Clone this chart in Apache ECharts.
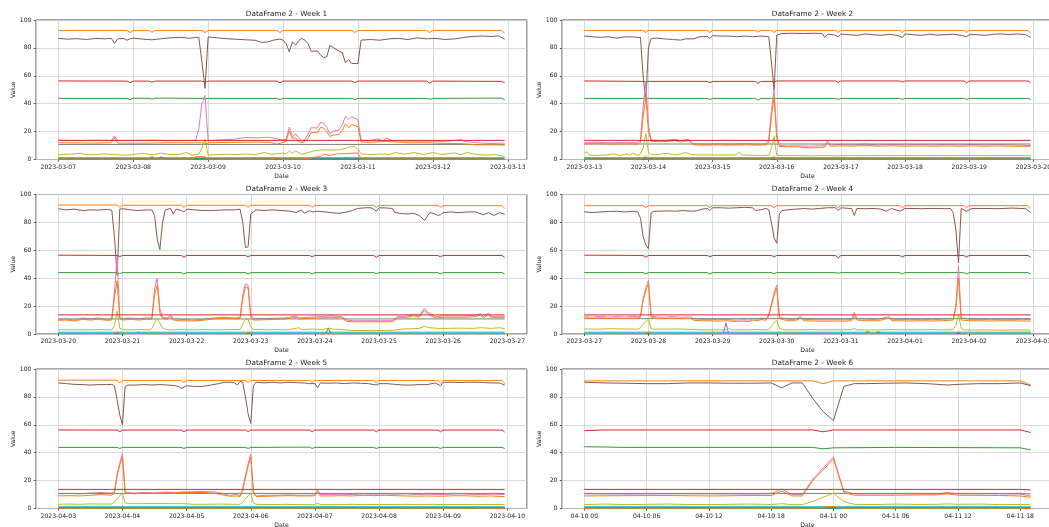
<!DOCTYPE html>
<html>
<head>
<meta charset="utf-8">
<title>DataFrame 2 - weekly</title>
<script src="https://cdn.jsdelivr.net/npm/echarts@6/dist/echarts.min.js"></script>
<style>
  html, body { margin: 0; padding: 0; background: #ffffff; }
  #chart { width: 1049px; height: 527px; }
</style>
</head>
<body>
<div id="chart"></div>
<script>
// Week definitions: start day (UTC), last hourly sample of the week, tick labels, titles
const weekStarts = ['2023-03-07', '2023-03-13', '2023-03-20', '2023-03-27', '2023-04-03', '2023-04-10'];
const weekLastHour = [143, 167, 167, 167, 167, 43];
const weekTickStepHours = [24, 24, 24, 24, 24, 6];
const weekTickLabels = [
  ['2023-03-07', '2023-03-08', '2023-03-09', '2023-03-10', '2023-03-11', '2023-03-12', '2023-03-13'],
  ['2023-03-13', '2023-03-14', '2023-03-15', '2023-03-16', '2023-03-17', '2023-03-18', '2023-03-19', '2023-03-20'],
  ['2023-03-20', '2023-03-21', '2023-03-22', '2023-03-23', '2023-03-24', '2023-03-25', '2023-03-26', '2023-03-27'],
  ['2023-03-27', '2023-03-28', '2023-03-29', '2023-03-30', '2023-03-31', '2023-04-01', '2023-04-02', '2023-04-03'],
  ['2023-04-03', '2023-04-04', '2023-04-05', '2023-04-06', '2023-04-07', '2023-04-08', '2023-04-09', '2023-04-10'],
  ['04-10 00', '04-10 06', '04-10 12', '04-10 18', '04-11 00', '04-11 06', '04-11 12', '04-11 18']
];
const weekTitles = ['DataFrame 2 - Week 1', 'DataFrame 2 - Week 2', 'DataFrame 2 - Week 3',
                    'DataFrame 2 - Week 4', 'DataFrame 2 - Week 5', 'DataFrame 2 - Week 6'];

// Columns of DataFrame 2: one list per week of [hour since week start, value]
const col1 = [
  [[0, 0.6], [143, 0.6]], [[0, 0.6], [167, 0.6]], [[0, 0.6], [167, 0.6]],
  [[0, 0.6], [167, 0.6]], [[0, 0.6], [167, 0.6]], [[0, 0.6], [43, 0.6]]
];
const col2 = [
  [[0,92.5],[22,92.5],[23,91],[24,92.5],[29,92.5],[30,91.2],[31,92.5],[46,92.5],[47,91],[48,92.5],[70,92.5],[71,91],[72,92.5],[94,92.5],[95,91],[96,92.5],[118,92.5],[119,91],[120,92.5],[142,92.5],[143,90.5]],
  [[0,92.5],[22,92.5],[23,91],[24,92.5],[46,92.5],[47,91],[48,92.5],[64,92.5],[65,91.2],[66,92.5],[70,92.5],[71,91],[72,92.5],[94,92.5],[95,91],[96,92.5],[118,92.5],[119,91],[120,92.5],[142,92.5],[143,91],[144,92.5],[166,92.5],[167,90.5]],
  [[0,92.5],[22,92.5],[23,90.8],[24,92.3],[46,92.3],[47,90.8],[48,92.3],[70,92.3],[71,90.8],[72,92.3],[94,92.3],[95,90.8],[96,92.2],[118,92.2],[119,90.8],[120,92.2],[142,92.2],[143,90.8],[144,92],[166,92],[167,90]],
  [[0,92],[22,92],[23,90.5],[24,92],[46,92],[47,90.5],[48,92],[70,92],[71,90.5],[72,92],[94,92],[95,90.5],[96,92],[118,92],[119,90.5],[120,92],[142,92],[143,90.5],[144,92],[166,92],[167,90]],
  [[0,92],[22,92],[23,90.2],[24,91.8],[46,91.8],[47,90.2],[48,91.8],[70,91.8],[71,90.2],[72,91.8],[94,91.8],[95,90],[96,91.8],[118,91.8],[119,90],[120,91.8],[142,91.8],[143,90],[144,91.8],[166,91.8],[167,89.5]],
  [[0,91.5],[22,91.5],[23,89.5],[24,91.5],[42,91.5],[43,88.5]]
];
const col3 = [
  [[0,43.8],[22,43.8],[23,42.8],[24,44],[29,43.8],[30,43.3],[31,44],[46,43.8],[47,43.5],[48,43.8],[70,43.8],[71,43],[72,43.8],[94,43.8],[95,43],[96,43.8],[118,43.8],[119,43.2],[120,43.8],[142,44],[143,42.8]],
  [[0,43.8],[22,43.8],[23,43.2],[24,43.8],[46,43.8],[47,43],[48,43.8],[64,43.8],[65,42.5],[66,43.8],[70,43.8],[71,43.5],[72,43.8],[94,43.8],[95,43],[96,43.8],[118,43.8],[119,43],[120,43.8],[142,43.8],[143,43],[144,43.8],[166,43.8],[167,43]],
  [[0,44],[22,44],[23,43.3],[24,44],[46,44],[47,43],[48,44],[70,44],[71,43],[72,44],[94,44],[95,43],[96,44],[118,44],[119,43.2],[120,44],[142,44],[143,43],[144,44],[166,44],[167,43]],
  [[0,44],[22,44],[23,43.2],[24,44],[46,44],[47,43],[48,44],[70,44],[71,43.2],[72,44],[94,44],[95,43.5],[96,44],[118,44],[119,43],[120,44],[142,44],[143,43],[144,44],[166,44],[167,43]],
  [[0,43.8],[22,43.8],[23,43],[24,43.8],[46,43.8],[47,43],[48,43.8],[70,43.8],[71,43],[72,43.8],[94,44],[95,43],[96,43.8],[118,43.8],[119,43],[120,43.8],[142,43.8],[143,43],[144,43.8],[166,43.8],[167,43]],
  [[0,44.3],[4,43.8],[22,43.8],[23,42.8],[24,43.5],[30,43.8],[42,43.5],[43,42]]
];
const col4 = [
  [[0,56.3],[22,56.2],[23,55],[24,56.2],[29,56.2],[30,55.3],[31,56.2],[46,56.2],[47,55.5],[48,56.2],[70,56.2],[71,55],[72,56.2],[94,56.2],[95,55.2],[96,56.2],[118,56.2],[119,54.8],[120,56.2],[142,56],[143,55]],
  [[0,56.3],[22,56],[23,55.5],[24,56],[46,56],[47,55],[48,56],[64,56],[65,54.5],[66,56],[70,56],[71,55.5],[72,56.3],[94,56.3],[95,55.2],[96,56.3],[118,56.3],[119,55.5],[120,56.3],[142,56.3],[143,55],[144,56.3],[166,56.3],[167,55]],
  [[0,56.5],[22,56.3],[23,55.5],[24,56.3],[46,56.3],[47,55],[48,56.3],[70,56.3],[71,55.3],[72,56.3],[94,56.3],[95,55.3],[96,56.3],[118,56.3],[119,55],[120,56.3],[142,56.3],[143,55.3],[144,56.3],[166,56.3],[167,54.8]],
  [[0,56.5],[22,56.3],[23,55],[24,56.3],[46,56.3],[47,55.3],[48,56.3],[70,56.3],[71,55.2],[72,56.3],[94,56.3],[95,54.5],[96,56.3],[118,56.3],[119,55],[120,56.3],[142,56.3],[143,55],[144,56.3],[166,56.3],[167,55]],
  [[0,56.3],[22,56.2],[23,55],[24,56.2],[46,56.2],[47,55],[48,56.2],[70,56.2],[71,55.2],[72,56.2],[94,56.2],[95,55],[96,56.2],[118,56.2],[119,55],[120,56.2],[142,56.2],[143,55],[144,56.2],[166,56.2],[167,54.8]],
  [[0,55.8],[2,56.3],[22,56.3],[23,55],[24,56.3],[42,56.3],[43,54.5]]
];
const col5 = [
  [[0,0.2],[143,0.2]],
  [[0,0.2],[65,0.2],[66,1.5],[67,0.2],[73,0.2],[74,1.2],[75,0.2],[167,0.2]],
  [[0,0.2],[29,0.2],[30,1.5],[31,0.2],[167,0.2]],
  [[0,0.2],[52,0.2],[53,8],[54,0.2],[167,0.2]],
  [[0,0.2],[167,0.2]],
  [[0,0.2],[43,0.2]]
];
const col6 = [
  [[0,86.8],[3,86.3],[6,86.6],[9,86],[12,86.8],[15,86.5],[17,86.8],[18,83.2],[19,86.5],[21,86.8],[22,85.5],[23,86.5],[24,87],[27,86.3],[30,85.8],[33,86.6],[36,87.2],[39,87.6],[42,86.9],[44,87.5],[45,87.6],[46,70],[47,51],[48,87.8],[51,87.2],[54,86.6],[57,86.2],[60,85.8],[63,85.5],[65,84],[67,84.2],[69,85.6],[71,86.3],[72,85.6],[73,83],[74,77.2],[75,84.4],[76,82],[77,85.1],[78,86.8],[79,85.6],[80,83],[81,77.5],[83,77.9],[84,75],[85,73.1],[86,73.6],[87,81.8],[89,78.9],[91,76.5],[92,69.3],[93,71.7],[94,68.8],[96,68.8],[97,85.6],[100,86],[103,85.5],[106,86.5],[109,86.8],[112,86],[115,87.2],[118,86.5],[121,86.8],[124,86],[127,86.5],[130,87.5],[133,88.3],[136,88.5],[139,88.2],[141,88.6],[143,86.2]],
  [[0,88.5],[3,88],[6,87.5],[9,88],[12,87],[15,87.8],[18,88],[20,87.5],[21,87.5],[22,60],[23,41.5],[24,80],[25,86.8],[27,87],[30,86.5],[33,86],[36,85.6],[38,86.5],[41,86.5],[43,88],[46,88.2],[47,86.8],[48,88.8],[51,88.5],[54,88.5],[57,88],[60,88.5],[63,88],[66,88.5],[69,88],[70,70],[71,50],[72,89.2],[74,90.3],[78,90.5],[82,90.3],[86,90.5],[89,90.3],[90,87.5],[91,89.8],[93,89.5],[95,88],[96,90],[99,89.5],[102,89],[105,90],[108,89.5],[111,89],[114,89.8],[117,89],[119,87.5],[120,90],[123,89.5],[126,89],[129,89.8],[132,89.2],[135,89.5],[138,89.8],[141,89],[143,88],[144,89.5],[147,89.5],[150,89],[153,89.8],[156,90],[159,89.5],[162,90],[165,89.5],[167,87.5]],
  [[0,89.8],[3,89],[6,89.5],[9,88.5],[12,89],[15,88.8],[18,89.3],[20,88.8],[21,70],[22,42],[23,89.5],[24,89.8],[27,89],[30,88.5],[33,89],[35,88.8],[36,85],[37,68],[38,60.5],[39,80],[40,89],[42,90],[43,86],[44,89.5],[46,88.5],[47,87.5],[48,89.5],[51,89],[54,88.5],[57,88.5],[60,88.8],[63,89],[66,89],[68,89.5],[69,80],[70,62],[71,62.5],[72,86],[74,89],[77,88.5],[80,89],[84,88.5],[87,88],[89,87],[91,89],[92,86.5],[94,88.5],[95,87.5],[97,88],[100,87.5],[103,86.8],[105,86.5],[108,87.5],[110,88.5],[112,90],[115,90.5],[117,90.5],[118,89.5],[119,88],[120,90.5],[123,90.3],[125,90],[126,87],[128,86.5],[130,86],[133,86.5],[135,85],[137,81.5],[139,87],[141,86],[142,85],[143,85.5],[144,87],[147,87.5],[150,87],[153,87.5],[156,87.5],[159,85.5],[161,87],[163,85],[165,87],[167,86]],
  [[0,87.6],[3,87],[6,87.5],[9,87.8],[12,88],[15,87.5],[18,88],[20,87.5],[21,83],[22,70],[23,64],[24,61],[25,87],[26,88],[28,88],[31,88.3],[34,88],[37,88.5],[40,88],[42,88.3],[44,89.5],[46,90],[47,88.5],[48,90.5],[51,90.5],[54,90.2],[57,90.5],[60,90.8],[63,90.5],[64,88.5],[66,89],[68,90],[69,89],[70,80],[71,69],[72,65],[73,86],[74,88.5],[76,89],[79,89.5],[82,90],[85,89.5],[88,90],[91,90.5],[94,90.5],[95,88.5],[96,90.5],[99,90],[100,90],[101,85],[102,90],[105,89.8],[108,90],[111,89.5],[113,88],[115,90],[118,88],[119,89],[120,90],[123,90],[126,89.8],[129,90],[132,90],[135,89.8],[137,90],[138,87],[139,75],[140,51],[141,90],[142,89],[143,88],[145,90],[148,90],[151,90],[154,89.8],[157,90],[160,90.3],[163,90],[165,90],[167,87]],
  [[0,90],[3,89.5],[6,89],[9,88.8],[12,88.5],[15,88.8],[18,88.8],[20,89],[21,88],[22,78],[23,67],[24,60],[25,87.5],[26,88.5],[29,88.5],[32,88.8],[35,88.5],[38,88.8],[41,88.5],[44,88],[45,87.5],[46,86],[48,88],[51,87.5],[54,87.5],[57,88.5],[60,89.5],[62,90.5],[64,90.5],[66,90],[67,88.5],[68,91],[69,90.5],[70,80],[71,68],[72,61],[73,88],[74,90.5],[77,90],[80,90.5],[83,90],[86,90.5],[89,90.2],[92,90],[94,89.5],[96,89.5],[97,86.5],[98,90],[101,89.8],[104,90],[107,89.5],[110,90],[113,89.8],[116,89.5],[119,88.5],[120,89.5],[123,89.5],[126,89],[129,88.5],[132,88.5],[135,88.8],[138,88.8],[141,90],[143,88],[144,90.5],[147,90.5],[150,90.3],[153,90.5],[156,90.5],[159,90.3],[162,90],[165,90],[167,88.5]],
  [[0,90.5],[2,90],[4,89.8],[6,89.5],[8,89.5],[10,90],[12,90],[14,89.8],[16,89.8],[18,90],[19,86.5],[20,90],[21,90],[22,79],[23,69.5],[24,63],[25,87.5],[26,89.5],[27,89.5],[29,89.8],[31,90],[33,89.5],[35,88.5],[36,89],[38,89.5],[40,89.5],[42,90],[43,88]]
];
const col7 = [
  [[0,13.8],[6,13.5],[12,13.8],[17,13.6],[18,17],[19,13.6],[24,13.5],[30,13.8],[36,13.5],[42,13.6],[44,13.8],[45,22],[46,40],[47,46],[48,13.5],[52,14],[56,14.5],[60,15.8],[64,15.5],[67,16],[70,15],[71,14.2],[72,14.2],[73,14.5],[74,23.3],[75,16],[76,18.5],[77,15.5],[78,12.8],[79,14.5],[80,18],[81,22.8],[83,22.6],[84,26.8],[85,26],[86,23],[87,18.5],[88,20.1],[90,21.3],[91,25],[92,31],[93,28.8],[94,30.5],[96,28.6],[97,13.7],[100,13.5],[102,14.9],[104,13.2],[105,15.6],[107,13.5],[112,13.2],[118,13.2],[124,13],[129,14.2],[130,13],[134,12],[138,11.5],[143,11.8]],
  [[0,12],[5,12.3],[10,12],[15,12.3],[20,12],[21,14],[22,38],[23,55],[24,25],[25,14],[28,13.5],[31,13.8],[34,14.5],[36,13.5],[39,14.5],[40,12.5],[41,11.3],[45,11],[50,11.3],[55,11],[60,11.3],[65,11],[68,11.2],[69,14],[70,35],[71,50],[72,18],[73,10],[76,9.6],[80,9.8],[84,9.5],[88,9.8],[90,10],[91,13.5],[92,10.5],[96,10.8],[100,10.5],[105,11],[110,10.5],[115,10.8],[120,10.5],[125,10.8],[130,10.5],[135,10.8],[140,10.5],[145,10.8],[150,10.5],[155,10.7],[160,10.5],[167,10]],
  [[0,10.5],[3,10.8],[6,10],[9,11.5],[12,10.8],[15,11.5],[18,10.5],[20,11],[21,30],[22,55],[23,12],[24,11],[27,11.5],[30,11],[33,11.5],[35,11.5],[36,32],[37,40],[38,18],[39,12],[41,11.5],[42,14],[43,11],[46,10.5],[50,10],[54,10.5],[58,11.5],[62,12],[66,11.5],[68,12],[69,28],[70,36],[71,35],[72,14],[73,11],[77,11],[81,11.3],[85,11.5],[89,13],[90,11.5],[94,12],[98,12.5],[102,13],[106,12.5],[108,10],[110,9.5],[115,9.5],[120,9.5],[125,9.5],[127,12.5],[130,12.8],[133,14],[135,13],[137,18.5],[138,16],[139,15],[141,12.5],[144,13],[148,13],[152,13],[156,13.5],[158,14.5],[159,12.5],[161,15],[162,12.5],[165,12.8],[167,12.5]],
  [[0,12.5],[3,12],[6,12.8],[9,12],[12,12.5],[15,12.2],[18,12.5],[20,12.5],[21,13],[22,25],[23,33],[24,38.5],[25,13],[27,12.3],[30,12],[33,12.5],[36,12],[39,12.3],[40,12],[41,10.8],[44,10.5],[47,10.5],[50,10.2],[53,10.5],[56,10],[59,10.2],[62,10],[63,11],[65,10.5],[66,11.5],[68,10.8],[69,14],[70,22],[71,30],[72,35],[73,12],[76,10.5],[79,10.5],[81,12.5],[82,10.5],[86,10.3],[90,10.2],[94,10.3],[98,10.2],[100,10.5],[101,15.5],[102,11],[106,10.5],[110,10.5],[114,12.5],[115,10.5],[118,10.5],[122,10.3],[126,10.5],[130,10.3],[134,10.5],[138,11],[139,20],[140,49],[141,11.5],[144,10.5],[148,10.5],[152,10.3],[156,10.5],[160,10.5],[164,10.3],[167,10.5]],
  [[0,10.5],[4,10.8],[8,10.5],[12,11],[16,11.5],[20,11],[21,12],[22,25],[23,33],[24,39.5],[25,12],[28,11],[32,11.5],[36,11.2],[40,11.8],[44,11.5],[47,12],[50,12],[54,12.2],[58,12],[61,11],[64,9.5],[67,10],[68,9],[69,14],[70,24],[71,32],[72,39],[73,12],[74,9],[78,9.5],[82,9.5],[86,9.8],[90,9.5],[94,9.5],[96,9.8],[97,13.5],[98,10],[102,10],[106,10.2],[110,10],[114,10.5],[118,10.2],[122,10.5],[126,10.2],[130,10.5],[134,10],[138,10.3],[142,10],[146,10.2],[150,10.5],[154,10.2],[158,10],[162,10.3],[167,10]],
  [[0,10.5],[4,10.3],[8,10.5],[12,10.5],[16,10.3],[18,10.5],[19,14],[20,10],[21,10],[22,21],[23,29],[24,37],[25,12.5],[26,10.5],[30,10.5],[34,10.5],[35,11.5],[36,10.5],[40,10.5],[42,10.3],[43,9]]
];
const col8 = [
  [[0,10.8],[143,10.8]], [[0,11.1],[167,11.1]], [[0,10.8],[167,10.8]],
  [[0,11],[167,11]], [[0,10.8],[167,10.8]], [[0,10.8],[42,10.8],[43,10.5]]
];
const col9 = [
  [[0,3.5],[4,3.8],[7,4.5],[9,3.5],[12,3.5],[15,4],[18,3.5],[21,3],[24,3.5],[27,4.5],[30,3.5],[33,4.5],[36,3.5],[39,3.8],[41,5],[43,3],[45,4],[46,8],[47,14.5],[48,3.2],[51,3.5],[54,3.8],[57,3.5],[60,4],[63,3.5],[66,5],[68,3.8],[70,4.2],[72,4.5],[73,4],[74,6],[75,4.6],[76,6.2],[78,3.6],[80,5],[82,6.2],[85,7],[88,6.8],[90,7],[92,8],[93,8.9],[95,9.4],[96,7],[97,4],[100,3.5],[103,4],[106,3.5],[108,5],[111,3.8],[114,5],[117,3.5],[120,5],[123,3.5],[127,4.8],[129,3.5],[131,5],[134,3.5],[137,3.2],[140,3.5],[143,2.3]],
  [[0,4.8],[1,5.5],[2,3.1],[5,3],[8,3.2],[11,4],[13,3],[15,3.5],[16,4],[17,3],[18,4.5],[20,3],[21,4],[22,8],[23,18.5],[24,5],[25,3.5],[28,3.5],[29,4],[31,4.5],[33,3.5],[35,3.5],[38,5],[40,3.5],[42,3.3],[46,3.3],[50,3.2],[54,3.3],[57,3.3],[58,5.5],[59,3.2],[63,3],[66,3],[69,3],[70,8],[71,16.5],[72,3],[75,2.7],[80,2.8],[85,2.6],[90,2.8],[95,2.6],[100,2.8],[105,2.7],[110,2.9],[115,2.7],[120,2.8],[125,2.7],[130,2.9],[135,2.7],[140,2.8],[145,2.9],[150,2.7],[155,2.9],[160,2.8],[167,2.8]],
  [[0,3],[5,3.1],[10,3],[15,3.2],[20,3],[21,6],[22,16.5],[23,4],[25,3],[30,3.2],[34,3],[35,4],[36,8],[37,11],[38,8],[39,4],[41,3],[45,3.2],[50,3],[55,3.2],[60,3],[65,3.2],[68,3.2],[69,7],[70,10.5],[71,10.5],[72,5],[73,3.5],[77,3],[82,3.2],[86,3],[90,4.5],[91,3.2],[95,3.5],[99,3.2],[101,4.2],[103,3.5],[106,3.3],[108,2.8],[112,2.5],[117,2.6],[122,2.5],[126,2.8],[128,3.5],[132,3.8],[135,4],[137,5.5],[139,4.5],[142,4],[146,4],[150,4.2],[155,4],[158,4.5],[162,4],[165,4.5],[167,3.8]],
  [[0,3.6],[5,3.5],[10,3.8],[15,3.6],[20,3.5],[21,4.5],[22,7],[23,9],[24,10.5],[25,4],[26,3.5],[30,3.5],[35,3.6],[40,3.3],[45,3],[50,3],[53,3],[54,4],[55,3],[60,3],[65,3.2],[69,3],[70,5.5],[71,8],[72,10],[73,4],[75,3],[80,3],[85,3.2],[90,3],[95,3],[100,3.2],[101,4],[102,3],[106,3],[110,3],[115,3.2],[120,3],[125,3],[130,3.2],[135,3],[138,3.2],[139,6],[140,14],[141,4],[142,3],[146,2.8],[150,3],[155,2.8],[160,2.9],[167,2.8]],
  [[0,3],[4,3.2],[8,3],[12,3.3],[16,3.2],[20,3.2],[21,4.5],[22,7],[23,9],[24,11],[25,4],[27,3.5],[32,3.5],[37,3.6],[42,3.5],[47,3.5],[50,3],[55,3],[60,3.2],[65,3],[68,3],[69,4.5],[70,7],[71,9],[72,11],[73,4],[74,3],[80,2.8],[85,3],[90,2.8],[96,2.8],[97,3.8],[98,2.8],[105,2.8],[110,3],[115,2.8],[120,2.9],[125,2.8],[130,3],[135,2.8],[140,3],[145,2.8],[150,2.9],[155,2.8],[160,2.9],[167,2.8]],
  [[0,2.8],[2,3.2],[4,2.8],[6,3],[8,3.2],[10,2.9],[12,2.8],[14,3],[16,3.2],[18,2.9],[19,3.4],[20,2.8],[21,2.8],[22,5],[23,8],[24,11],[25,5],[26,3],[28,2.8],[30,3.2],[32,2.9],[34,3],[35,3.3],[36,3],[38,3.2],[40,2.8],[42,2.9],[43,2.8]]
];
const col10 = [
  [[0,1.3],[143,1.3]], [[0,1.3],[167,1.3]], [[0,1.3],[167,1.3]],
  [[0,1.3],[167,1.3]], [[0,1.3],[167,1.3]], [[0,1.3],[43,1.3]]
];
const col11 = [
  [[0,12],[12,11.8],[17,12],[18,15.8],[19,11.8],[24,11.7],[30,11.8],[36,12],[44,12],[46,12],[47,11],[48,12],[56,12.3],[64,12.5],[68,12.3],[70,11],[72,12.3],[73,13],[74,20.5],[75,15],[76,15.5],[77,13],[78,12],[79,13],[80,15],[81,19.5],[83,19],[84,23],[85,22.5],[86,20],[87,16.5],[88,17.5],[90,18],[91,21],[92,25.5],[93,23],[94,25],[96,23.5],[97,12.5],[100,12.3],[105,13],[112,12],[118,12],[124,11.5],[130,11.3],[134,10.5],[140,10.5],[143,10.3]],
  [[0,11],[5,11.3],[10,11],[15,11.2],[20,11],[21,12],[22,30],[23,45],[24,20],[25,13],[28,12.8],[31,13],[34,13.5],[36,12.5],[39,13.5],[40,11.5],[41,10.5],[45,10.3],[50,10.5],[55,10.3],[60,10.5],[65,10.3],[68,10.5],[69,12],[70,30],[71,45],[72,15],[73,9.4],[76,9.2],[80,9],[84,8.3],[88,8.5],[90,9],[91,12],[92,9.5],[96,9.8],[100,9.6],[105,10],[110,9.6],[115,9.8],[120,9.5],[125,9.8],[130,9.5],[135,9.7],[140,9.5],[145,9.8],[150,9.5],[155,9.7],[160,9.5],[167,9.5]],
  [[0,9.8],[3,10],[6,9.3],[9,10.5],[12,10],[15,10.5],[18,9.8],[20,10],[21,26],[22,38],[23,11],[24,10],[27,10.5],[30,10],[33,10.5],[35,10.5],[36,28],[37,35],[38,15],[39,11],[41,10.5],[42,12.5],[43,10],[46,9.5],[50,9.3],[54,9.8],[58,10.8],[62,11.2],[66,10.8],[68,11],[69,25],[70,34],[71,33],[72,12],[73,10],[77,10.2],[81,10.5],[85,10.8],[89,12],[90,10.8],[94,11.2],[98,11.5],[102,12],[106,11.5],[108,9],[110,8.8],[115,8.8],[120,8.8],[125,8.8],[127,11.5],[130,11.8],[133,13],[135,12],[137,17],[138,15],[139,13.5],[141,11.5],[144,12],[148,12],[152,12],[156,12.5],[158,13.5],[159,11.5],[161,14],[162,11.5],[165,11.8],[167,11.5]],
  [[0,11.5],[3,11],[6,11.8],[9,11],[12,11.5],[15,11.2],[18,11.5],[20,11.5],[21,12],[22,24],[23,31],[24,36],[25,12],[27,11.3],[30,11],[33,11.5],[36,11],[39,11.3],[40,11],[41,9.8],[44,9.5],[47,9.5],[50,9.2],[53,9.5],[56,9],[59,9.2],[62,9],[63,10],[65,9.5],[66,10.5],[68,9.8],[69,13],[70,20],[71,28],[72,33],[73,11],[76,9.5],[79,9.5],[81,11.5],[82,9.5],[86,9.3],[90,9.2],[94,9.3],[98,9.2],[100,9.5],[101,13],[102,10],[106,9.5],[110,9.5],[114,11.5],[115,9.5],[118,9.5],[122,9.3],[126,9.5],[130,9.3],[134,9.5],[138,10],[139,18],[140,40],[141,10],[144,9.5],[148,9.5],[152,9.3],[156,9.5],[160,9.5],[164,9.3],[167,9.3]],
  [[0,9],[4,9.2],[8,9],[12,9.5],[16,10],[20,9.5],[21,11],[22,23],[23,31],[24,37],[25,11],[28,10.5],[32,11],[36,10.8],[40,11.3],[44,11],[47,11.5],[50,11.5],[54,11.5],[58,11],[61,10],[64,8.8],[67,9],[68,8.5],[69,13],[70,22],[71,30],[72,37],[73,11],[74,8.5],[78,8.8],[82,9],[86,9.2],[90,9],[94,9],[96,9.2],[97,12],[98,9],[102,9],[106,9.2],[110,9],[114,9.5],[118,9.2],[122,9.5],[126,9.2],[130,9],[134,8.8],[138,9],[142,8.8],[146,9],[150,9.2],[154,9],[158,8.8],[162,9],[167,8.5]],
  [[0,9],[4,9.2],[8,9.3],[12,9],[16,9.3],[18,9.3],[19,12.5],[20,9],[21,9],[22,20],[23,27.5],[24,35.5],[25,11.5],[26,9.5],[30,9.5],[34,9.8],[35,10.5],[36,9.5],[40,9.3],[42,9],[43,8]]
];
const col12 = [
  [[0,0.3],[29,0.3],[30,2.2],[31,0.3],[32,0.3],[33,2],[34,0.3],[143,0.3]],
  [[0,0.3],[167,0.3]],
  [[0,0.3],[100,0.3],[101,4],[102,0.3],[167,0.3]],
  [[0,0.3],[105,0.3],[106,2],[107,0.3],[109,0.3],[110,1.8],[111,0.3],[167,0.3]],
  [[0,0.3],[167,0.3]],
  [[0,0.3],[43,0.3]]
];
const col13 = [
  [[0,13.7],[143,13.7]], [[0,13.7],[167,13.7]], [[0,13.7],[167,13.7]],
  [[0,13.7],[167,13.7]], [[0,13.7],[167,13.7]], [[0,13.7],[42,13.7],[43,13.3]]
];
const col14 = [
  [[0,0.3],[43,0.3],[44,2],[47,2],[48,0.3],[68,0.3],[70,1.5],[72,0.3],[80,0.5],[82,1.8],[84,2],[85,3.8],[87,2.9],[89,4],[92,4.3],[96,4.6],[97,0.3],[143,0.3]],
  [[0,0.3],[21,0.3],[23,2],[24,0.3],[69,0.3],[71,2],[72,0.3],[167,0.3]],
  [[0,0.3],[21,0.3],[22,1.5],[23,0.3],[70,0.3],[71,1.5],[72,0.3],[167,0.3]],
  [[0,0.3],[23,0.3],[24,1.5],[25,0.3],[139,0.3],[140,1.8],[141,0.3],[167,0.3]],
  [[0,0.3],[23,0.3],[24,1.8],[25,0.3],[167,0.3]],
  [[0,0.3],[22,0.3],[24,1.5],[25,0.3],[43,0.3]]
];

const columns = [
  { name: 'col1', color: '#1f77b4', data: col1 },
  { name: 'col2', color: '#ff7f0e', data: col2 },
  { name: 'col3', color: '#2ca02c', data: col3 },
  { name: 'col4', color: '#d62728', data: col4 },
  { name: 'col5', color: '#9467bd', data: col5 },
  { name: 'col6', color: '#8c564b', data: col6 },
  { name: 'col7', color: '#e377c2', data: col7 },
  { name: 'col8', color: '#7f7f7f', data: col8 },
  { name: 'col9', color: '#bcbd22', data: col9 },
  { name: 'col10', color: '#17becf', data: col10 },
  { name: 'col11', color: '#ff7f0e', data: col11 },
  { name: 'col12', color: '#2ca02c', data: col12 },
  { name: 'col13', color: '#d62728', data: col13 },
  { name: 'col14', color: '#ff7f0e', data: col14 }
];

const HOUR = 3600 * 1000;
const FONT = 'DejaVu Sans';
const TEXT = '#222222';
const colLeft = [36, 562];
const plotWidth = 491;
const rowTop = [20, 194.5, 369];
const plotHeight = 139.5;

const grids = [], xAxes = [], yAxes = [], titles = [], series = [];

weekStarts.forEach((day, w) => {
  const start = Date.parse(day + 'T00:00:00Z');
  const last = weekLastHour[w];
  const step = weekTickStepHours[w] * HOUR;
  // The time scale rounds its step from a hint: a day hint gives daily ticks,
  // an 8-hour hint gives 6-hourly ticks.
  const stepHint = weekTickStepHours[w] < 24 ? 8 * HOUR : step;
  const labels = weekTickLabels[w];
  const col = w % 2, row = Math.floor(w / 2);
  const left = colLeft[col];
  const top = rowTop[row];

  grids.push({
    left: left, top: top, width: plotWidth, height: plotHeight,
    show: true, borderColor: '#3a3a3a', borderWidth: 0.9,
    backgroundColor: 'transparent', containLabel: false, outerBoundsMode: 'none'
  });

  titles.push({
    text: weekTitles[w], left: left + plotWidth / 2, top: top - 14, textAlign: 'center',
    textStyle: { fontFamily: FONT, fontSize: 7.3, fontWeight: 'normal', color: TEXT }
  });

  xAxes.push({
    type: 'time', gridIndex: w,
    min: start - 0.05 * last * HOUR,
    max: start + 1.05 * last * HOUR,
    minInterval: stepHint, maxInterval: stepHint, splitNumber: labels.length,
    axisLine: { show: false },
    axisTick: { show: true, length: 2.2, lineStyle: { color: '#333', width: 0.8 } },
    axisLabel: {
      fontFamily: FONT, fontSize: 6.1, color: TEXT, margin: 4.5, hideOverlap: false,
      interval: 0,
      formatter: function (val) {
        const k = Math.round((val - start) / step);
        if (Math.abs(val - start - k * step) > 1000 || k < 0 || k >= labels.length) return '';
        return labels[k];
      }
    },
    splitLine: { show: true, lineStyle: { color: '#d0d0d0', width: 0.8 } },
    name: 'Date', nameLocation: 'middle', nameGap: 13.5,
    nameTextStyle: { fontFamily: FONT, fontSize: 6.1, color: TEXT }
  });

  yAxes.push({
    type: 'value', gridIndex: w, min: 0, max: 100, interval: 20,
    axisLine: { show: false },
    axisTick: { show: true, length: 2.2, lineStyle: { color: '#333', width: 0.8 } },
    axisLabel: { fontFamily: FONT, fontSize: 6.1, color: TEXT, margin: 4.5 },
    splitLine: { show: true, lineStyle: { color: '#d0d0d0', width: 0.8 } },
    name: 'Value', nameLocation: 'middle', nameGap: 20,
    nameTextStyle: { fontFamily: FONT, fontSize: 6.1, color: TEXT }
  });

  columns.forEach((c) => {
    series.push({
      type: 'line', name: c.name, xAxisIndex: w, yAxisIndex: w,
      showSymbol: false, symbol: 'none', silent: true, animation: false,
      lineStyle: { color: c.color, width: 1 },
      itemStyle: { color: c.color },
      data: c.data[w].map(([h, v]) => [start + h * HOUR, v])
    });
  });
});

const chart = echarts.init(document.getElementById('chart'), null, { renderer: 'canvas' });
chart.setOption({
  useUTC: true,
  animation: false,
  backgroundColor: '#ffffff',
  textStyle: { fontFamily: FONT },
  title: titles,
  grid: grids,
  xAxis: xAxes,
  yAxis: yAxes,
  series: series
});
</script>
</body>
</html>
